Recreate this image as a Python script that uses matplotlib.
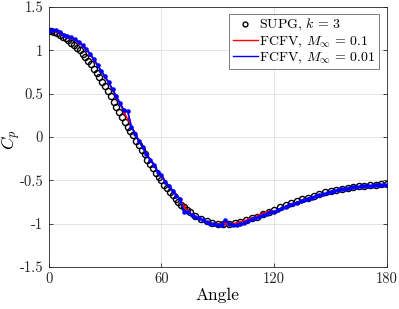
import numpy as np
import matplotlib
matplotlib.use('Agg')
import matplotlib.pyplot as plt
from matplotlib.lines import Line2D

plt.rcParams['font.family'] = 'serif'
plt.rcParams['font.serif'] = ['cmr10']
plt.rcParams['mathtext.fontset'] = 'cm'
plt.rcParams['axes.unicode_minus'] = False

# SUPG, k = 3 (denser sampling on the front part of the body)
supg_angle = [0, 1.5, 3, 4.5, 6, 7.5, 9, 10.5, 12, 13.5, 15, 16.5, 18, 19.5, 21,
              22.5, 24, 25.5, 27, 28.5, 30, 31.5, 33, 34.5, 36, 37.5, 39, 40.5,
              42, 43.5, 45, 46.5, 48, 49.5, 51, 52.5, 54, 55.5, 57, 58.5, 60,
              61.5, 63, 64.5, 66, 67.5, 69, 70.5, 72, 73.5, 75,
              78, 81, 84, 87, 90, 93, 96, 99, 102, 105, 108, 111, 114, 117, 120,
              123, 126, 129, 132, 135, 138, 141, 144, 147, 150, 153, 156, 159,
              162, 165, 168, 171, 174, 177, 180]
supg_cp = [1.22, 1.22, 1.21, 1.20, 1.18, 1.16, 1.14, 1.12, 1.09, 1.06, 1.03,
           1.00, 0.96, 0.92, 0.88, 0.84, 0.79, 0.74, 0.69, 0.64, 0.59, 0.53,
           0.47, 0.41, 0.35, 0.29, 0.23, 0.17, 0.12, 0.07, 0.02, -0.04, -0.09,
           -0.15, -0.20, -0.26, -0.31, -0.36, -0.41, -0.46, -0.50, -0.55, -0.59,
           -0.63, -0.67, -0.71, -0.75, -0.78, -0.81, -0.84, -0.87,
           -0.91, -0.95, -0.97, -0.99, -1.00, -1.00, -1.00, -0.99, -0.98, -0.96,
           -0.94, -0.92, -0.89, -0.87, -0.84, -0.81, -0.79, -0.76, -0.74, -0.72,
           -0.70, -0.68, -0.66, -0.64, -0.62, -0.61, -0.60, -0.59, -0.58, -0.57,
           -0.56, -0.55, -0.55, -0.54, -0.54]

# FCFV (every 2 degrees)
fcfv_angle = np.arange(0, 181, 2)
fcfv01_cp = [1.22, 1.23, 1.22, 1.20, 1.18, 1.16, 1.14, 1.12, 1.09, 1.05,
             1.01, 0.95, 0.89, 0.83, 0.76, 0.69, 0.62, 0.54, 0.46, 0.38,
             0.29, 0.21, 0.12, 0.05, -0.04, -0.12, -0.19, -0.26, -0.33, -0.40,
             -0.45, -0.51, -0.57, -0.62, -0.67, -0.72, -0.80, -0.85, -0.89, -0.92,
             -0.94, -0.96, -0.98, -0.99, -1.00, -1.00, -1.00, -0.99, -1.00, -1.00,
             -0.99, -0.98, -0.97, -0.95, -0.94, -0.92, -0.90, -0.88, -0.87, -0.85,
             -0.86, -0.84, -0.82, -0.80, -0.78, -0.77, -0.75, -0.74, -0.72, -0.71,
             -0.70, -0.68, -0.67, -0.66, -0.65, -0.63, -0.62, -0.61, -0.60, -0.60,
             -0.59, -0.58, -0.58, -0.57, -0.57, -0.56, -0.56, -0.55, -0.55, -0.55,
             -0.55]
fcfv001_cp = [1.22, 1.23, 1.24, 1.21, 1.18, 1.17, 1.15, 1.13, 1.10, 1.06,
              1.02, 0.96, 0.90, 0.83, 0.76, 0.70, 0.63, 0.55, 0.47, 0.39,
              0.31, 0.30, 0.12, 0.04, -0.05, -0.12, -0.20, -0.26, -0.32, -0.40,
              -0.44, -0.52, -0.56, -0.62, -0.68, -0.72, -0.86, -0.86, -0.90, -0.92,
              -0.94, -0.96, -0.98, -1.00, -1.00, -1.02, -1.01, -0.96, -1.00, -1.02,
              -1.01, -1.00, -0.99, -0.97, -0.95, -0.94, -0.92, -0.90, -0.89, -0.87,
              -0.86, -0.84, -0.82, -0.81, -0.78, -0.77, -0.76, -0.74, -0.73, -0.71,
              -0.70, -0.68, -0.67, -0.66, -0.65, -0.63, -0.62, -0.61, -0.60, -0.60,
              -0.59, -0.58, -0.58, -0.57, -0.57, -0.56, -0.56, -0.55, -0.55, -0.55,
              -0.55]

xticks = [0, 60, 120, 180]
yticks = [-1.5, -1, -0.5, 0, 0.5, 1, 1.5]
ytick_labels = ['-1.5', '-1', '-0.5', '0', '0.5', '1', '1.5']

fig = plt.figure(figsize=(3.99, 3.09), dpi=100)
ax = fig.add_axes([0.122, 0.136, 0.848, 0.841])

ax.plot(supg_angle, supg_cp, 'o', mfc='none', mec='black', ms=4.4, mew=1.0, zorder=2)
ax.plot(fcfv_angle, fcfv01_cp, '.-', color='red', lw=1.0, ms=3, zorder=3)
ax.plot(fcfv_angle, fcfv001_cp, '.-', color='blue', lw=1.3, ms=4.5, zorder=4)

ax.set_xlim(0, 180)
ax.set_ylim(-1.5, 1.5)
ax.set_xticks(xticks)
ax.set_xticklabels([str(t) for t in xticks])
ax.set_yticks(yticks)
ax.set_yticklabels(ytick_labels)
ax.tick_params(direction='in', length=3, width=0.6, labelsize=10.5, colors='0.15',
               top=False, right=True, pad=4)
ax.grid(True, color='0.88', lw=0.6)
ax.set_axisbelow(True)
for s in ax.spines.values():
    s.set_color('0.15')
    s.set_linewidth(0.6)

ax.set_xlabel('Angle', fontsize=12.5, labelpad=1)
ax.set_ylabel('$C_p$', fontsize=12.5)
ax.yaxis.set_label_coords(-0.075, 0.49)

handles = [Line2D([], [], ls='none', marker='o', mfc='none', mec='black', ms=3.5, mew=1.0),
           Line2D([], [], color='red', lw=1.0),
           Line2D([], [], color='blue', lw=1.0)]
labels = [r'SUPG, $k\,=\,3$', r'FCFV, $M_\infty\,=\,0.1$', r'FCFV, $M_\infty\,=\,0.01$']
leg = ax.legend(handles, labels, loc='upper right', bbox_to_anchor=(0.976, 0.975),
                fontsize=10, handlelength=1.8, handletextpad=0.1, borderpad=0.25,
                labelspacing=0.08, borderaxespad=0, fancybox=False, framealpha=1)
leg.get_frame().set_edgecolor('0.4')
leg.get_frame().set_linewidth(0.6)

fig.savefig('out.png', dpi=100)
